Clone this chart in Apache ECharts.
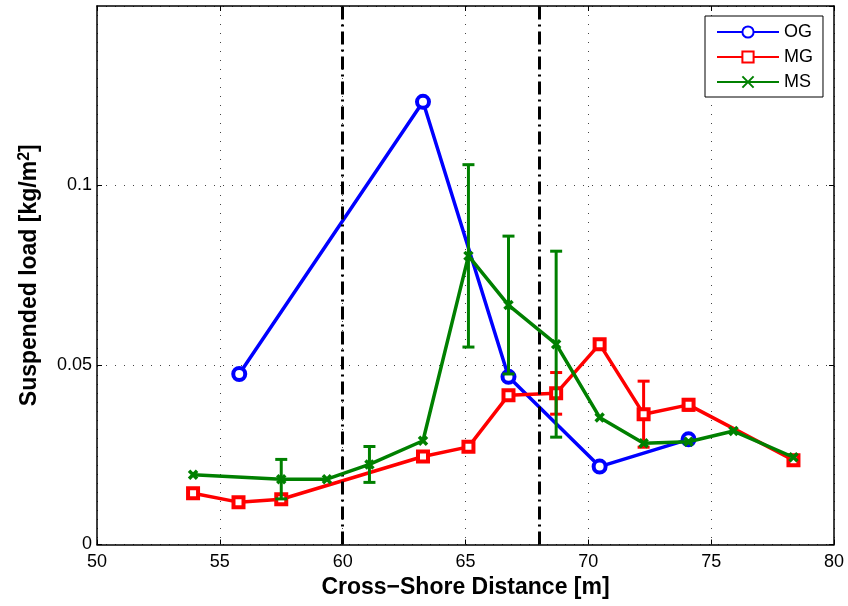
<!DOCTYPE html>
<html>
<head>
<meta charset="utf-8">
<script src="https://cdn.jsdelivr.net/npm/echarts@6/dist/echarts.min.js"></script>
<style>html,body{margin:0;padding:0;background:#fff;}#c{width:848px;height:606px;}</style>
</head>
<body>
<div id="c"></div>
<script>
// ---- data ----
const xTicks = [50, 55, 60, 65, 70, 75, 80];
const yTicks = [0, 0.05, 0.1, 0.15];
const seriesNames = ['OG', 'MG', 'MS'];
const ogX = [55.79, 63.27, 66.75, 70.46, 74.08];
const ogY = [0.0475, 0.1233, 0.0467, 0.0217, 0.0293];
const mgX = [53.91, 55.76, 57.50, 63.27, 65.12, 66.75, 68.69, 70.46, 72.25, 74.08, 78.35];
const mgY = [0.0143, 0.0118, 0.0126, 0.0245, 0.0272, 0.0416, 0.0421, 0.0558, 0.0363, 0.0389, 0.0235];
const mgErr = [0, 0, 0, 0, 0, 0, 0.0058, 0, 0.0092, 0.0015, 0];
const msX = [53.91, 57.50, 59.36, 61.09, 63.27, 65.12, 66.75, 68.69, 70.46, 72.25, 74.08, 75.91, 78.35];
const msY = [0.0194, 0.0182, 0.0182, 0.0223, 0.0289, 0.0804, 0.0667, 0.0558, 0.0354, 0.0282, 0.0286, 0.0316, 0.0243];
const msErr = [0, 0.0055, 0, 0.005, 0, 0.0254, 0.0192, 0.0259, 0, 0, 0, 0, 0];
const vLines = [60, 68];

const BLUE = '#0000ff', RED = '#ff0000', GREEN = '#008000';
const FONT = 'Liberation Sans';

function pairs(xs, ys) { return xs.map((x, i) => [x, ys[i]]); }
function errData(xs, ys, es) {
  const out = [];
  xs.forEach((x, i) => { if (es[i] > 0) out.push([x, ys[i] - es[i], ys[i] + es[i]]); });
  return out;
}
function errRender(color) {
  return function (params, api) {
    const x = api.value(0), lo = api.value(1), hi = api.value(2);
    const p1 = api.coord([x, lo]), p2 = api.coord([x, hi]);
    const w = 6;
    const st = { stroke: color, lineWidth: 3 };
    return {
      type: 'group',
      children: [
        { type: 'line', shape: { x1: p1[0], y1: p1[1], x2: p2[0], y2: p2[1] }, style: st },
        { type: 'line', shape: { x1: p1[0] - w, y1: p1[1], x2: p1[0] + w, y2: p1[1] }, style: st },
        { type: 'line', shape: { x1: p2[0] - w, y1: p2[1], x2: p2[0] + w, y2: p2[1] }, style: st }
      ]
    };
  };
}

const chart = echarts.init(document.getElementById('c'), null, { renderer: 'canvas' });
const dotGrid = { show: true, lineStyle: { color: '#444', width: 1, type: [1, 8] } };
const axLine = { show: true, onZero: false, lineStyle: { color: '#000', width: 1.5 } };
const axTick = { show: true, inside: true, length: 5, lineStyle: { color: '#000' } };
const option = {
  backgroundColor: '#fff',
  animation: false,
  textStyle: { fontFamily: FONT },
  grid: { left: 97, right: 14, top: 6, bottom: 61.5, containLabel: false },
  legend: {
    data: seriesNames,
    orient: 'vertical',
    left: 705, top: 16,
    padding: [7, 10, 6, 11],
    itemGap: 7,
    itemWidth: 62, itemHeight: 14,
    backgroundColor: '#fff',
    borderColor: '#000', borderWidth: 1,
    textStyle: { fontSize: 18, color: '#000', fontFamily: FONT }
  },
  xAxis: [{
    type: 'value', min: xTicks[0], max: xTicks[xTicks.length - 1], interval: 5,
    name: 'Cross\u2212Shore Distance [m]', nameLocation: 'middle', nameGap: 31,
    nameTextStyle: { fontSize: 23, fontWeight: 'bold', color: '#000', fontFamily: FONT },
    axisLine: axLine, axisTick: axTick,
    axisLabel: { fontSize: 18, color: '#000', margin: 9, fontFamily: FONT },
    splitLine: dotGrid
  }, {
    type: 'value', position: 'top', min: xTicks[0], max: xTicks[xTicks.length - 1], interval: 5,
    axisLine: axLine, axisTick: axTick,
    axisLabel: { show: false }, splitLine: { show: false }
  }],
  yAxis: [{
    type: 'value', min: yTicks[0], max: yTicks[yTicks.length - 1], interval: 0.05,
    name: 'Suspended load [kg/m{sup|2}]', nameLocation: 'middle', nameGap: 54,
    nameTextStyle: {
      fontSize: 23, fontWeight: 'bold', color: '#000', fontFamily: FONT,
      rich: { sup: { fontSize: 16, fontWeight: 'bold', fontFamily: FONT, verticalAlign: 'bottom', padding: [0, 0, 10, 0] } }
    },
    axisLine: axLine, axisTick: axTick,
    axisLabel: { fontSize: 18, color: '#000', margin: 5, showMaxLabel: false, fontFamily: FONT },
    splitLine: dotGrid
  }, {
    type: 'value', position: 'right', min: yTicks[0], max: yTicks[yTicks.length - 1], interval: 0.05,
    axisLine: axLine, axisTick: axTick,
    axisLabel: { show: false }, splitLine: { show: false }
  }],
  series: [
    {
      name: 'vlines', type: 'line', data: [], z: 1, silent: true,
      markLine: {
        silent: true, symbol: ['none', 'none'], label: { show: false },
        lineStyle: { color: '#000', width: 3, type: [13, 5, 2, 5] },
        emphasis: { disabled: true },
        data: vLines.map(v => ({ xAxis: v }))
      }
    },
    {
      name: 'OG', type: 'line', data: pairs(ogX, ogY), z: 3,
      symbol: 'circle', symbolSize: 12, showAllSymbol: true,
      lineStyle: { color: BLUE, width: 3.5 },
      itemStyle: { color: '#fff', borderColor: BLUE, borderWidth: 4 }
    },
    {
      name: 'MG', type: 'line', data: pairs(mgX, mgY), z: 4,
      symbol: 'rect', symbolSize: 10,
      lineStyle: { color: RED, width: 3.5 },
      itemStyle: { color: '#fff', borderColor: RED, borderWidth: 4 }
    },
    {
      name: 'MS', type: 'line', data: pairs(msX, msY), z: 5,
      symbol: 'path://M0,0L10,10M10,0L0,10', symbolSize: 8,
      lineStyle: { color: GREEN, width: 3.5 },
      itemStyle: { color: GREEN, borderColor: GREEN, borderWidth: 3.5 }
    },
    {
      name: 'MG err', type: 'custom', data: errData(mgX, mgY, mgErr), z: 4,
      renderItem: errRender(RED), encode: { x: 0, y: [1, 2] }, silent: true
    },
    {
      name: 'MS err', type: 'custom', data: errData(msX, msY, msErr), z: 5,
      renderItem: errRender(GREEN), encode: { x: 0, y: [1, 2] }, silent: true
    }
  ]
};
chart.setOption(option);
</script>
</body>
</html>
